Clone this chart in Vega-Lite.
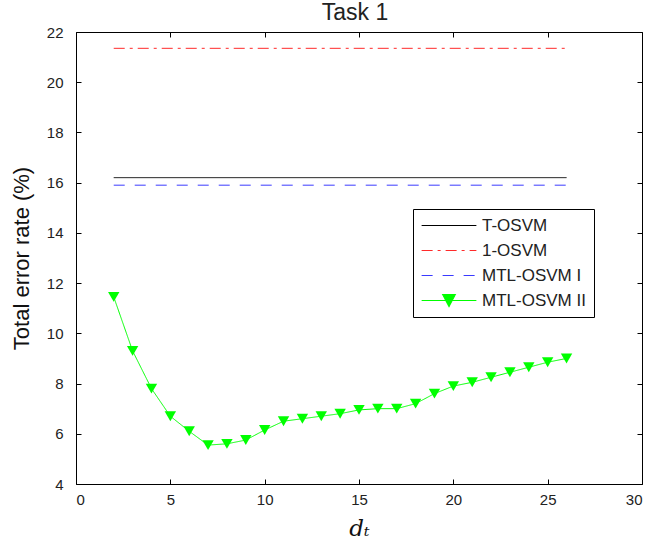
{
  "$schema": "https://vega.github.io/schema/vega-lite/v6.json",
  "autosize": {"type": "none"},
  "width": 566,
  "height": 452,
  "padding": {"left": 76, "top": 32, "right": 12, "bottom": 57},
  "background": "white",
  "title": {"text": "Task 1", "font": "Liberation Sans", "fontSize": 23, "fontWeight": "normal", "color": "#222", "offset": 0, "dx": -4},
  "config": {
    "view": {"stroke": "black", "strokeWidth": 1},
    "axis": {"grid": false, "domain": false, "tickColor": "black", "tickSize": -5, "labelFont": "Liberation Sans", "labelFontSize": 15, "labelColor": "#222", "titleColor": "#111"},
    "legend": {"orient": "none", "legendX": 337, "legendY": 177, "strokeColor": "black", "fillColor": "white", "padding": 8, "labelFont": "Liberation Sans", "labelFontSize": 17, "labelColor": "#222", "symbolType": "stroke", "symbolSize": 3000, "symbolStrokeWidth": 1.2, "rowPadding": 7, "labelOffset": 5, "clipHeight": 17}
  },
  "data": {"values": [
    {"series": "T-OSVM", "d": 2, "err": 16.2},
    {"series": "T-OSVM", "d": 26, "err": 16.2},
    {"series": "1-OSVM", "d": 2, "err": 21.35},
    {"series": "1-OSVM", "d": 26, "err": 21.35},
    {"series": "MTL-OSVM I", "d": 2, "err": 15.9},
    {"series": "MTL-OSVM I", "d": 26, "err": 15.9},
    {"series": "MTL-OSVM II", "d": 2, "err": 11.45},
    {"series": "MTL-OSVM II", "d": 3, "err": 9.3},
    {"series": "MTL-OSVM II", "d": 4, "err": 7.8},
    {"series": "MTL-OSVM II", "d": 5, "err": 6.7},
    {"series": "MTL-OSVM II", "d": 6, "err": 6.1},
    {"series": "MTL-OSVM II", "d": 7, "err": 5.55},
    {"series": "MTL-OSVM II", "d": 8, "err": 5.6},
    {"series": "MTL-OSVM II", "d": 9, "err": 5.75},
    {"series": "MTL-OSVM II", "d": 10, "err": 6.15},
    {"series": "MTL-OSVM II", "d": 11, "err": 6.5},
    {"series": "MTL-OSVM II", "d": 12, "err": 6.6},
    {"series": "MTL-OSVM II", "d": 13, "err": 6.7},
    {"series": "MTL-OSVM II", "d": 14, "err": 6.8},
    {"series": "MTL-OSVM II", "d": 15, "err": 6.95},
    {"series": "MTL-OSVM II", "d": 16, "err": 7.0},
    {"series": "MTL-OSVM II", "d": 17, "err": 7.0},
    {"series": "MTL-OSVM II", "d": 18, "err": 7.2},
    {"series": "MTL-OSVM II", "d": 19, "err": 7.6},
    {"series": "MTL-OSVM II", "d": 20, "err": 7.9},
    {"series": "MTL-OSVM II", "d": 21, "err": 8.05},
    {"series": "MTL-OSVM II", "d": 22, "err": 8.25},
    {"series": "MTL-OSVM II", "d": 23, "err": 8.45},
    {"series": "MTL-OSVM II", "d": 24, "err": 8.65},
    {"series": "MTL-OSVM II", "d": 25, "err": 8.85},
    {"series": "MTL-OSVM II", "d": 26, "err": 9.0}
  ]},
  "resolve": {"axis": {"x": "independent", "y": "independent"}},
  "layer": [
    {
      "mark": {"type": "line", "strokeWidth": 1},
      "encoding": {
        "x": {"field": "d", "type": "quantitative", "scale": {"domain": [0, 30], "nice": false}, "axis": {"orient": "bottom", "values": [0, 5, 10, 15, 20, 25, 30], "title": "dₜ", "titleFont": "DejaVu Serif", "titleFontStyle": "italic", "titleFontWeight": "normal", "titleFontSize": 23, "titlePadding": 10, "labelPadding": 13}},
        "y": {"field": "err", "type": "quantitative", "scale": {"domain": [4, 22], "nice": false}, "axis": {"orient": "left", "values": [4, 6, 8, 10, 12, 14, 16, 18, 20, 22], "title": "Total error rate (%)", "titleFont": "Liberation Sans", "titleFontSize": 22, "titleFontWeight": "normal", "titlePadding": 13, "labelPadding": 18}},
        "detail": {"field": "series"},
        "color": {"field": "series", "type": "nominal", "scale": {"domain": ["T-OSVM", "1-OSVM", "MTL-OSVM I", "MTL-OSVM II"], "range": ["#000000", "#ff2a2a", "#3a3aff", "#00ff00"]},
          "legend": {"title": null, "encode": {"symbols": {"update": {"shape": {"signal": "datum.value === 'MTL-OSVM II' ? 'M-1,0H1M-0.23,-0.22H0.23L0,0.22Z' : 'stroke'"}, "fill": {"signal": "datum.value === 'MTL-OSVM II' ? '#00ff00' : 'transparent'"}, "stroke": {"signal": "scale('color', datum.value)"}}}}}},
        "strokeDash": {"field": "series", "type": "nominal", "scale": {"domain": ["T-OSVM", "1-OSVM", "MTL-OSVM I", "MTL-OSVM II"], "range": [[1, 0], [11, 5, 3, 5], [11, 10], [1, 0]]}, "legend": {"title": null}}
      }
    },
    {
      "transform": [{"filter": "datum.series === 'MTL-OSVM II'"}],
      "mark": {"type": "point", "shape": "triangle-down", "filled": true, "color": "#00ff00", "opacity": 1, "size": 130},
      "encoding": {
        "x": {"field": "d", "type": "quantitative", "axis": {"orient": "top", "values": [0, 5, 10, 15, 20, 25, 30], "labels": false, "title": null}},
        "y": {"field": "err", "type": "quantitative", "axis": {"orient": "right", "values": [4, 6, 8, 10, 12, 14, 16, 18, 20, 22], "labels": false, "title": null}}
      }
    }
  ]
}
